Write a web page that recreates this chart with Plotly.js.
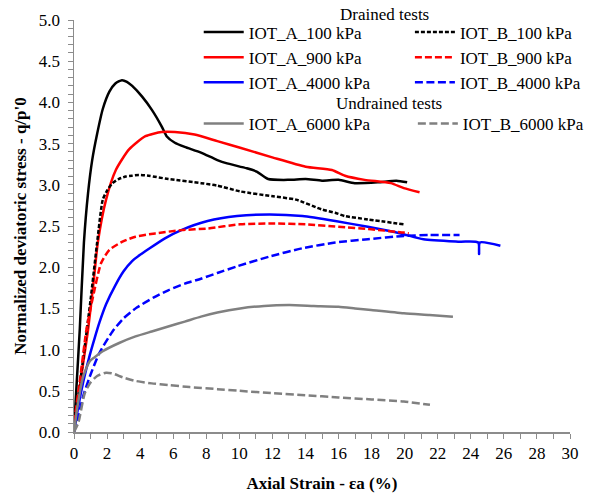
<!DOCTYPE html>
<html>
<head>
<meta charset="utf-8">
<script src="https://cdn.plot.ly/plotly-3.0.1.min.js"></script>
<style>html,body{margin:0;padding:0;background:#fff;}#chart{width:601px;height:495px;}</style>
</head>
<body>
<div id="chart"></div>
<script>
// ---- data ----
const names = ["IOT_A_100 kPa","IOT_A_900 kPa","IOT_A_4000 kPa","IOT_B_100 kPa","IOT_B_900 kPa","IOT_B_4000 kPa","IOT_A_6000 kPa","IOT_B_6000 kPa"];

const a100_x = [0,0.15,0.35,0.6,0.85,1.1,1.4,1.74,2.14,2.5,2.9,3.2,3.52,4.12,4.71,5.3,5.6,6.1,6.69,7.68,8.67,9.26,10.45,11.05,11.74,13.02,14.01,15.0,16.0,16.98,18.37,19.5,20.15];
const a100_y = [0.02,0.55,1.25,2.3,2.9,3.3,3.62,3.92,4.13,4.23,4.27,4.25,4.2,4.07,3.91,3.71,3.59,3.51,3.46,3.39,3.30,3.26,3.2,3.16,3.07,3.06,3.07,3.05,3.06,3.02,3.03,3.05,3.03];

const b100_x = [0,0.5,1.0,1.4,1.74,2.0,2.33,2.7,3.13,3.5,3.92,4.51,5.7,7.68,8.67,10.05,12.04,13.42,15.0,15.8,16.39,17.77,19.95];
const b100_y = [0.02,0.8,1.6,2.3,2.82,2.93,3.02,3.07,3.1,3.11,3.12,3.11,3.07,3.02,2.99,2.92,2.86,2.82,2.70,2.66,2.62,2.58,2.52];

const a900_x = [0,0.55,0.85,1.2,1.44,1.94,2.53,3.33,4.32,5.3,6.1,7.29,8.67,10.05,12.04,14.01,15.6,16.39,17.58,19.16,19.95,20.9];
const a900_y = [0.05,0.83,1.24,1.85,2.3,2.82,3.18,3.43,3.59,3.64,3.64,3.61,3.53,3.45,3.33,3.22,3.18,3.11,3.06,3.02,2.96,2.91];

const b900_x = [0,0.06,0.36,0.75,1.15,1.64,2.14,2.93,3.72,4.91,6.5,8.08,10.05,12.04,14.01,15.99,17.97,19.95,20.25];
const b900_y = [0,0.19,0.63,1.24,1.64,2.05,2.21,2.31,2.37,2.41,2.45,2.47,2.52,2.53,2.52,2.49,2.46,2.42,2.41];

const a4000_x = [0,0.26,0.55,0.95,1.25,1.54,1.94,2.5,3.0,3.5,4.0,4.51,5.5,6.49,8.08,9.86,11.83,13.82,15.8,17.77,19.75,21.14,23.32,24.45,24.5,24.55,25.79];
const a4000_y = [0,0.31,0.6,0.93,1.14,1.33,1.55,1.78,1.95,2.07,2.15,2.22,2.35,2.45,2.56,2.62,2.64,2.62,2.56,2.49,2.41,2.34,2.31,2.30,2.16,2.30,2.26];

const b4000_x = [0,0.16,0.55,0.95,1.54,2.33,3.0,3.8,4.8,5.7,6.7,7.68,8.67,9.86,11.83,13.82,15.8,17.77,19.95,21.5,23.32];
const b4000_y = [0,0.11,0.43,0.67,0.96,1.22,1.38,1.51,1.63,1.72,1.8,1.86,1.93,2.01,2.13,2.23,2.30,2.34,2.38,2.39,2.39];

const a6000_x = [0,0.2,0.55,0.95,1.2,1.74,2.73,3.72,4.7,5.7,6.7,7.68,8.67,10.05,11.5,13.02,14.5,16.0,17.0,17.97,19.95,21.5,22.92];
const a6000_y = [0,0.3,0.67,0.86,0.9,0.98,1.08,1.16,1.22,1.28,1.34,1.4,1.45,1.5,1.53,1.54,1.53,1.52,1.5,1.48,1.44,1.42,1.40];

const b6000_x = [0,0.26,0.65,1.0,1.4,1.94,2.33,3.0,3.72,4.7,5.7,7.0,8.67,10.0,12.04,14.0,15.99,18.0,19.95,21.53];
const b6000_y = [0,0.11,0.47,0.6,0.68,0.72,0.71,0.66,0.62,0.59,0.57,0.545,0.52,0.5,0.47,0.445,0.42,0.395,0.37,0.33];

const xTickVals = [0,2,4,6,8,10,12,14,16,18,20,22,24,26,28,30];
const yTickVals = [0,0.5,1,1.5,2,2.5,3,3.5,4,4.5,5];
const headers = ["Drained tests","Undrained tests"];

// ---- styling ----
const FONT = "'Liberation Serif','Times New Roman',serif";
const BLACK = "#000000", RED = "#ff0000", BLUE = "#0000ff", GREY = "#808080";
const W = 2.5;
// plot area in pixels
const PL = 74, PR = 579, PT = 20, PB = 432;
const px2x = p => (p - PL) / (PR - PL);
const py2y = p => (PB - p) / (PB - PT);

function tr(x, y, name, color, dash, legend, shape) {
  return {x: x, y: y, name: name, type: "scatter", mode: "lines",
          line: {color: color, width: W, dash: dash, shape: shape, smoothing: 0.6},
          legend: legend, hoverinfo: "skip"};
}

const data = [
  tr(a100_x, a100_y, names[0], BLACK, "solid", "legend", "spline"),
  tr(a900_x, a900_y, names[1], RED, "solid", "legend", "spline"),
  tr(a4000_x, a4000_y, names[2], BLUE, "solid", "legend", "spline"),
  tr(b100_x, b100_y, names[3], BLACK, "4px,2px", "legend2", "spline"),
  tr(b900_x, b900_y, names[4], RED, "7px,3px", "legend2", "spline"),
  tr(b4000_x, b4000_y, names[5], BLUE, "8px,3.5px", "legend2", "spline"),
  tr(a6000_x, a6000_y, names[6], GREY, "solid", "legend3", "spline"),
  tr(b6000_x, b6000_y, names[7], GREY, "8px,3.5px", "legend4", "spline")
];

function leg(px, py) {
  return {x: px2x(px), y: py2y(py), xref: "paper", yref: "paper",
          xanchor: "left", yanchor: "top", bgcolor: "rgba(0,0,0,0)", borderwidth: 0,
          font: {family: FONT, size: 17, color: "#000"}, itemwidth: 40, tracegroupgap: 0};
}

const axisCommon = {
  showline: true, linecolor: "#8c8c8c", linewidth: 1.5, showgrid: false, zeroline: false,
  ticks: "outside", ticklen: 5, tickwidth: 1, tickcolor: "#8c8c8c",
  tickfont: {family: FONT, size: 17, color: "#000"}, automargin: false
};

const layout = {
  width: 601, height: 495,
  margin: {l: PL, r: 601 - PR, t: PT, b: 495 - PB},
  paper_bgcolor: "#fff", plot_bgcolor: "#fff",
  font: {family: FONT, color: "#000"},
  hovermode: false,
  xaxis: Object.assign({}, axisCommon, {
    range: [0, 30], tickvals: xTickVals,
    minor: {dtick: 1, ticks: "outside", ticklen: 5, tickcolor: "#8c8c8c", showgrid: false},
    title: {text: "Axial Strain - εa (%)", font: {family: FONT, size: 17, weight: "bold", color: "#000"}, standoff: 15}
  }),
  yaxis: Object.assign({}, axisCommon, {
    range: [0, 5], tickvals: yTickVals, tickformat: ".1f", ticklabelstandoff: 4,
    minor: {dtick: 0.1, ticks: "outside", ticklen: 5, tickcolor: "#8c8c8c", showgrid: false},
    title: {text: "Normalized deviatoric stress - q/p'0", font: {family: FONT, size: 17, weight: "bold", color: "#000"}, standoff: 8}
  }),
  legend: leg(201, 14.5),
  legend2: leg(416, 14.5),
  legend3: leg(201, 106),
  legend4: leg(419, 106),
  annotations: [
    {text: headers[0], xref: "paper", yref: "paper", x: px2x(390), y: py2y(14),
     showarrow: false, xanchor: "center", yanchor: "middle", font: {family: FONT, size: 17, color: "#000"}},
    {text: headers[1], xref: "paper", yref: "paper", x: px2x(395), y: py2y(103),
     showarrow: false, xanchor: "center", yanchor: "middle", font: {family: FONT, size: 17, color: "#000"}}
  ]
};

Plotly.newPlot("chart", data, layout, {displayModeBar: false, staticPlot: true});
</script>
</body>
</html>
